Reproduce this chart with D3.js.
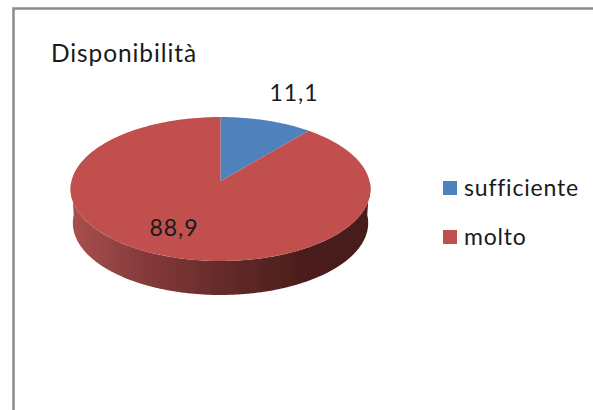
<!DOCTYPE html>
<html>
<head>
<meta charset="utf-8">
<script src="https://cdn.jsdelivr.net/npm/d3@7"></script>
<style>
  html, body { margin: 0; padding: 0; background: #fff; }
  svg { display: block; }
  text { font-family: Lato, "Open Sans", sans-serif; fill: #1a1a1a; font-variant-ligatures: none; }
</style>
</head>
<body>
<div id="chart"></div>
<script>
// Data
const categories = ['sufficiente', 'molto'];
const values = [11.1, 88.9];
const labels = ['11,1', '88,9'];
const colors = ['#4f81bd', '#c0504d'];
const title = 'Disponibilità';

// Dimensions
const width = 593;
const height = 410;
const center = { x: 220.5, y: 181 };
const radiusX = 149;
const radiusY = 71.1;
const tilt = 1 / 9; // far side of the disc is squeezed, apex sits above the ellipse middle
const depth = 34;
const wallTaper = 0.985; // lower rim is a bit narrower than the top face

const svg = d3.select('#chart').append('svg')
  .attr('width', width)
  .attr('height', height);

const defs = svg.append('defs');

defs.append('filter').attr('id', 'soft')
  .append('feGaussianBlur').attr('stdDeviation', 0.45);

// Side wall shading, light on the left and dark on the right
const wallGrad = defs.append('linearGradient')
  .attr('id', 'wall')
  .attr('gradientUnits', 'userSpaceOnUse')
  .attr('x1', 71).attr('x2', 371).attr('y1', 0).attr('y2', 0);
wallGrad.selectAll('stop')
  .data([[0, '#a8514e'], [0.25, '#85393a'], [0.5, '#662b2a'], [0.75, '#4d1f1d'], [1, '#471b19']])
  .join('stop')
  .attr('offset', d => d[0])
  .attr('stop-color', d => d[1]);

// Frame: only the top and left edges show in the crop
svg.append('path')
  .attr('d', `M13.5,${height}V8.5H${width}`)
  .attr('fill', 'none')
  .attr('stroke', '#8c8c8c')
  .attr('stroke-width', 2.5);

// Project a pie angle (0 = up, clockwise) and radius fraction onto the tilted disc
function project(angle, r = 1) {
  const u = r * Math.sin(angle);
  const v = r * Math.cos(angle);
  const w = 1 + tilt * v;
  return [center.x + radiusX * u / w, center.y - radiusY * v / w];
}

const pie = d3.pie().sort(null).value(d => d);
const arcs = pie(values);
const color = d3.scaleOrdinal().domain(categories).range(colors);
const line = d3.line();

function sliceOutline(d) {
  const n = Math.ceil((d.endAngle - d.startAngle) * 40);
  const step = (d.endAngle - d.startAngle) / n;
  const rim = d3.range(n + 1).map(i => project(d.startAngle + i * step));
  return [project(0, 0), ...rim];
}

const gPie = svg.append('g').attr('filter', 'url(#soft)');

// Side wall: front half of the rim, swept down by the depth
const front = d3.range(Math.PI / 2, 3 * Math.PI / 2, 0.01).map(a => project(a));
const lowerRim = front.slice().reverse()
  .map(p => [center.x + (p[0] - center.x) * wallTaper, p[1] + depth]);
gPie.append('path')
  .attr('d', line([...front, ...lowerRim]) + 'Z')
  .attr('fill', 'url(#wall)');

// Top face
gPie.selectAll('path.slice')
  .data(arcs)
  .join('path')
  .attr('class', 'slice')
  .attr('d', d => line(sliceOutline(d)) + 'Z')
  .attr('fill', (d, i) => color(categories[i]));

// Title
svg.append('text')
  .attr('x', 51)
  .attr('y', 62)
  .attr('font-size', 24.5)
  .attr('letter-spacing', 0.9)
  .text(title);

// Data labels
const labelPos = [[294, 101], [174, 236]];
svg.selectAll('text.value')
  .data(labels)
  .join('text')
  .attr('class', 'value')
  .attr('x', (d, i) => labelPos[i][0])
  .attr('y', (d, i) => labelPos[i][1])
  .attr('text-anchor', 'middle')
  .attr('font-size', 23)
  .attr('letter-spacing', 1)
  .text(d => d);

// Legend
const legendY = d3.scalePoint().domain(categories).range([188, 237]);
const legend = svg.selectAll('g.legend')
  .data(categories)
  .join('g')
  .attr('class', 'legend')
  .attr('transform', d => `translate(443, ${legendY(d)})`);
legend.append('rect')
  .attr('x', 0).attr('y', -7)
  .attr('width', 14).attr('height', 14)
  .attr('fill', d => color(d));
legend.append('text')
  .attr('x', 21)
  .attr('y', 8)
  .attr('font-size', 23)
  .attr('letter-spacing', 0.8)
  .text(d => d);
</script>
</body>
</html>
